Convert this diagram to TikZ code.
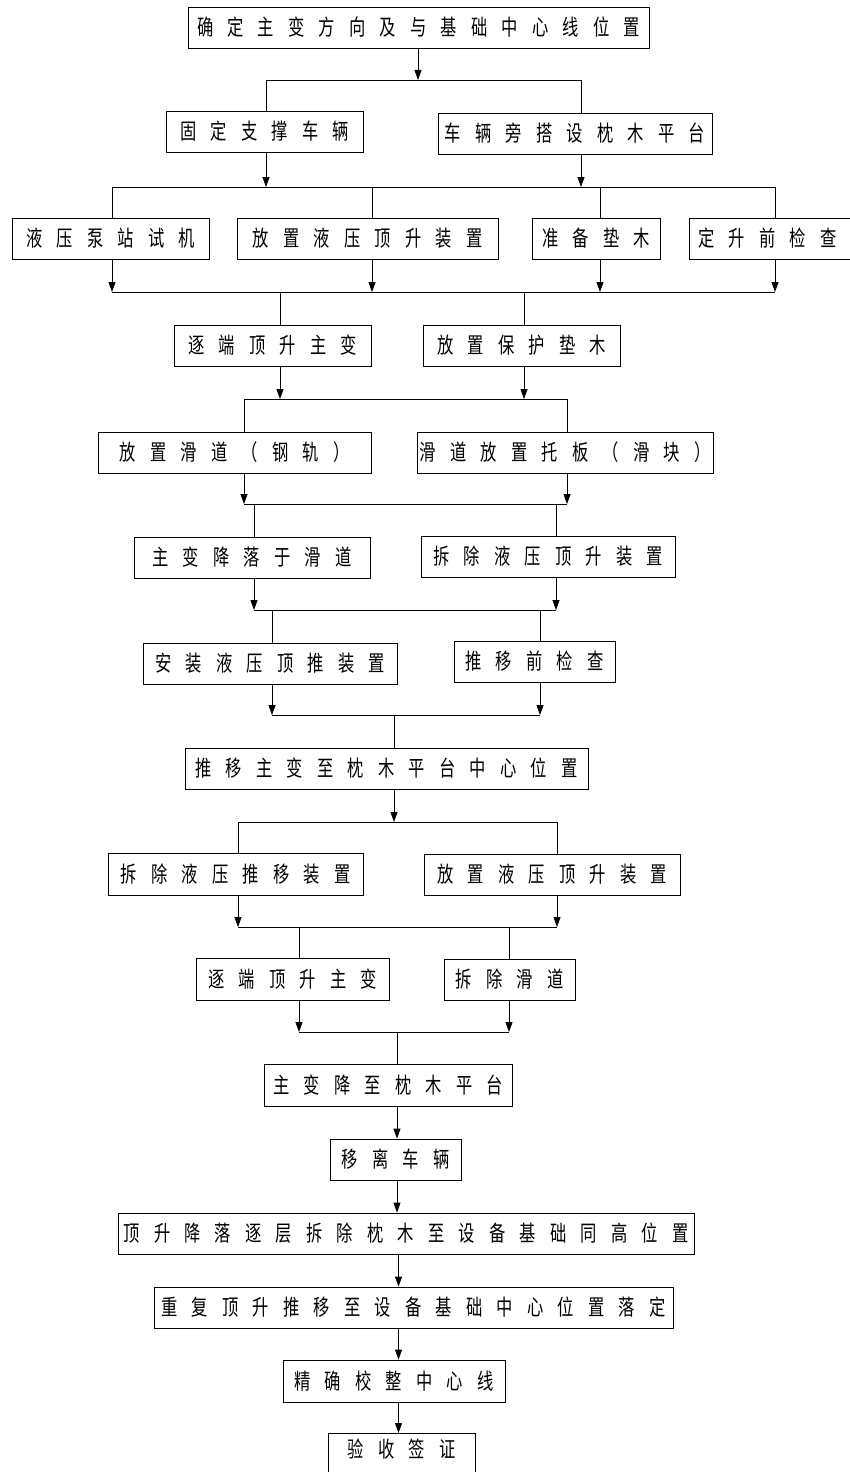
\documentclass[tikz,border=0pt]{standalone}
\usepackage{fontspec}
\newfontfamily\cjk[FakeStretch=0.74]{Noto Sans CJK SC}
\usetikzlibrary{arrows.meta}
\newlength\lspgap \setlength\lspgap{14.2pt}
\def\lspEnd{LSPEND}
\def\lsp#1{\lspA#1\lspEnd}
\def\lspA#1{\ifx#1\lspEnd\else#1\expandafter\lspB\fi}
\def\lspB#1{\ifx#1\lspEnd\else\hskip\lspgap\relax#1\expandafter\lspB\fi}
\tikzset{
  box/.style={draw=black, line width=0.8pt, inner sep=0pt, text height=18pt, text depth=1.6pt,
    font={\cjk\fontsize{22pt}{24pt}\selectfont}},
  conn/.style={line width=0.8pt, black},
  arr/.style={conn, -{Triangle[length=10pt,width=7pt]}}
}
\newcommand\bx[6]{\node[box, minimum width={#4-#2}, minimum height={#5-#3}] (#1) at ({(#2+#4)/2},{(#3+#5)/2}) {\lsp{#6}};}
\begin{document}
\begin{tikzpicture}[x=1pt,y=-1pt]
\useasboundingbox (0,0) rectangle (850,1472);
% boxes
\bx{A}{188}{7}{649}{48}{确定主变方向及与基础中心线位置}
\bx{B}{166}{111}{363}{152}{固定支撑车辆}
\bx{C}{438}{113}{712}{154}{车辆旁搭设枕木平台}
\bx{D}{12}{218}{209}{259}{液压泵站试机}
\bx{E}{237}{218}{498}{259}{放置液压顶升装置}
\bx{F}{532}{218}{660}{259}{准备垫木}
\node[box, minimum width=171, minimum height=41] (G) at (774.5,238.5) {\lsp{定升前检查}\hspace*{14pt}};
\bx{H}{174}{325}{371}{366}{逐端顶升主变}
\bx{I}{423}{325}{620}{366}{放置保护垫木}
\bx{J}{98}{432}{371}{473}{放置滑道（钢轨）}
\bx{K}{417}{432}{713}{473}{滑道放置托板（滑块）}
\bx{L}{134}{537}{370}{578}{主变降落于滑道}
\bx{M}{421}{536}{675}{577}{拆除液压顶升装置}
\bx{N}{143}{643}{397}{684}{安装液压顶推装置}
\bx{O}{454}{641}{615}{682}{推移前检查}
\bx{P}{185}{748}{588}{789}{推移主变至枕木平台中心位置}
\bx{Q}{108}{853}{363}{895}{拆除液压推移装置}
\bx{R}{424}{854}{680}{895}{放置液压顶升装置}
\bx{S}{196}{958}{389}{1000}{逐端顶升主变}
\bx{T}{444}{959}{575}{1000}{拆除滑道}
\bx{U}{264}{1064}{512}{1106}{主变降至枕木平台}
\bx{V}{330}{1139}{461}{1180}{移离车辆}
\bx{W}{118}{1213}{694}{1254}{顶升降落逐层拆除枕木至设备基础同高位置}
\bx{X}{154}{1287}{673}{1328}{重复顶升推移至设备基础中心位置落定}
\bx{Y}{283}{1360}{505}{1402}{精确校整中心线}
\node[box, anchor=north, minimum width=147, inner ysep=6pt, text depth=40pt] (Z) at (401.5,1433) {\lsp{验收签证}};
% junction coordinates
\coordinate (j0) at (418,80);
\coordinate (b1L) at (266,80); \coordinate (b1R) at (581,80);
\coordinate (c2L) at (266,187); \coordinate (c2R) at (581,187);
\coordinate (d1) at (112,187); \coordinate (d2) at (372,187); \coordinate (d3) at (600,187); \coordinate (d4) at (775,187);
\coordinate (e1) at (112,292); \coordinate (e2) at (372,292); \coordinate (e3) at (600,292); \coordinate (e4) at (775,292);
\coordinate (f1) at (280,292); \coordinate (f2) at (524,292);
\coordinate (g1) at (280,399); \coordinate (g2) at (524,399);
\coordinate (h1) at (244,399); \coordinate (h2) at (567,399);
\coordinate (i1) at (244,504); \coordinate (i2) at (567,504);
\coordinate (k1) at (254,504); \coordinate (k2) at (556,504);
\coordinate (l1) at (254,610); \coordinate (l2) at (556,610);
\coordinate (m1) at (272,610); \coordinate (m2) at (540,610);
\coordinate (n1) at (272,715); \coordinate (n2) at (540,715);
\coordinate (n0) at (394,715);
\coordinate (p0) at (394,822);
\coordinate (q1) at (238,822); \coordinate (q2) at (557,822);
\coordinate (r1) at (238,927); \coordinate (r2) at (557,927);
\coordinate (s1) at (299,927); \coordinate (s2) at (509,927);
\coordinate (t1) at (299,1032); \coordinate (t2) at (509,1032);
\coordinate (t0) at (397,1032);
\coordinate (ax) at (398.5,0);
% connectors
\draw[arr] (A.south -| j0) -- (j0);
\draw[conn] (b1L) -- (b1R);
\draw[conn] (b1L) -- (B.north -| b1L);
\draw[conn] (b1R) -- (C.north -| b1R);
\draw[arr] (B.south -| c2L) -- (c2L);
\draw[arr] (C.south -| c2R) -- (c2R);
\draw[conn] (d1) -- (d4);
\draw[conn] (d1) -- (D.north -| d1);
\draw[conn] (d2) -- (E.north -| d2);
\draw[conn] (d3) -- (F.north -| d3);
\draw[conn] (d4) -- (G.north -| d4);
\draw[arr] (D.south -| e1) -- (e1);
\draw[arr] (E.south -| e2) -- (e2);
\draw[arr] (F.south -| e3) -- (e3);
\draw[arr] (G.south -| e4) -- (e4);
\draw[conn] (e1) -- (e4);
\draw[conn] (f1) -- (H.north -| f1);
\draw[conn] (f2) -- (I.north -| f2);
\draw[arr] (H.south -| g1) -- (g1);
\draw[arr] (I.south -| g2) -- (g2);
\draw[conn] (h1) -- (h2);
\draw[conn] (h1) -- (J.north -| h1);
\draw[conn] (h2) -- (K.north -| h2);
\draw[arr] (J.south -| i1) -- (i1);
\draw[arr] (K.south -| i2) -- (i2);
\draw[conn] (i1) -- (i2);
\draw[conn] (k1) -- (L.north -| k1);
\draw[conn] (k2) -- (M.north -| k2);
\draw[arr] (L.south -| l1) -- (l1);
\draw[arr] (M.south -| l2) -- (l2);
\draw[conn] (l1) -- (l2);
\draw[conn] (m1) -- (N.north -| m1);
\draw[conn] (m2) -- (O.north -| m2);
\draw[arr] (N.south -| n1) -- (n1);
\draw[arr] (O.south -| n2) -- (n2);
\draw[conn] (n1) -- (n2);
\draw[conn] (n0) -- (P.north -| n0);
\draw[arr] (P.south -| p0) -- (p0);
\draw[conn] (q1) -- (q2);
\draw[conn] (q1) -- (Q.north -| q1);
\draw[conn] (q2) -- (R.north -| q2);
\draw[arr] (Q.south -| r1) -- (r1);
\draw[arr] (R.south -| r2) -- (r2);
\draw[conn] (r1) -- (r2);
\draw[conn] (s1) -- (S.north -| s1);
\draw[conn] (s2) -- (T.north -| s2);
\draw[arr] (S.south -| t1) -- (t1);
\draw[arr] (T.south -| t2) -- (t2);
\draw[conn] (t1) -- (t2);
\draw[conn] (t0) -- (U.north -| t0);
\draw[arr] (U.south -| t0) -- (V.north -| t0);
\draw[arr] (V.south -| t0) -- (W.north -| t0);
\draw[arr] (W.south -| ax) -- (X.north -| ax);
\draw[arr] (X.south -| ax) -- (Y.north -| ax);
\draw[arr] (Y.south -| ax) -- (Z.north -| ax);
\end{tikzpicture}
\end{document}
